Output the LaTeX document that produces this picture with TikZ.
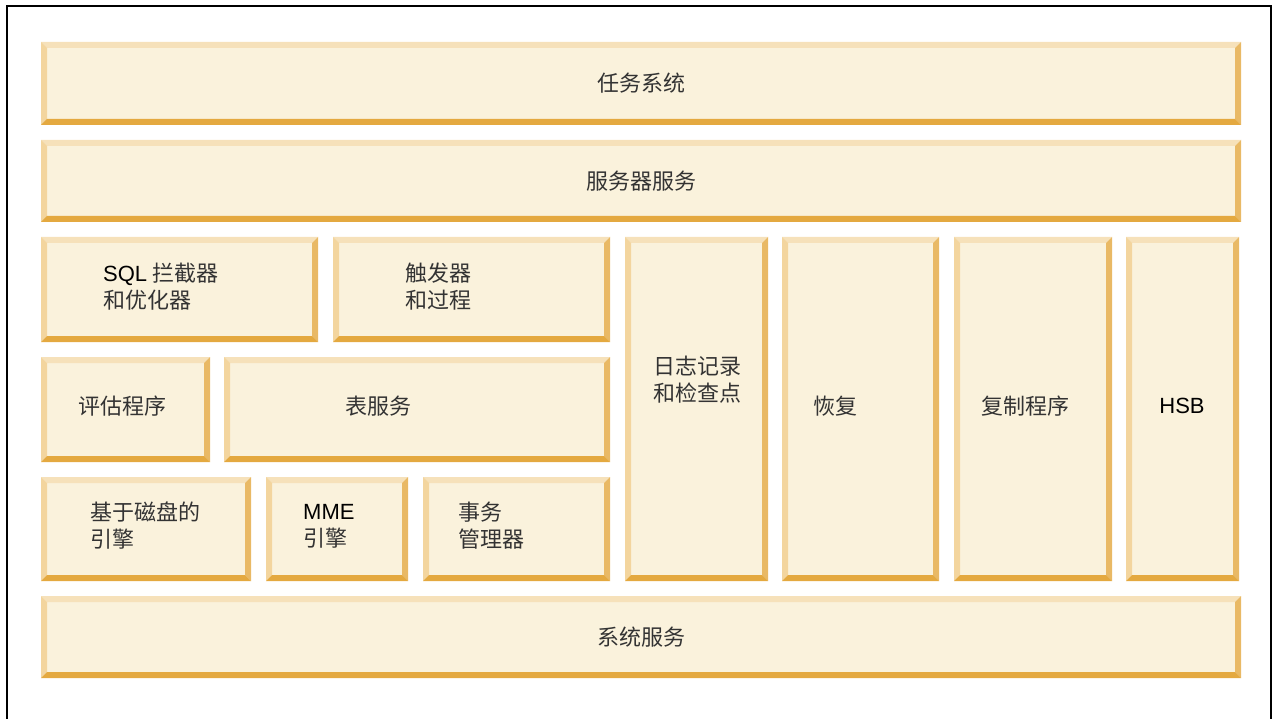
\documentclass[tikz,border=0pt]{standalone}
\usepackage{fontspec}
\setmainfont{Noto Sans CJK SC}
\newfontfamily\latinf{Liberation Sans}
\usetikzlibrary{positioning}

\definecolor{bvfill}{HTML}{FAF2DC}
\definecolor{bvtop}{HTML}{F6E1BA}
\definecolor{bvleft}{HTML}{F3D59E}
\definecolor{bvright}{HTML}{E9B965}
\definecolor{bvbottom}{HTML}{E4A940}
\definecolor{cjktext}{HTML}{333333}

\tikzset{
  bevelbox/.style={
    fill=bvfill,inner sep=0pt,outer sep=0pt,
    path picture={
      \coordinate (bnw) at (path picture bounding box.north west);
      \coordinate (bne) at (path picture bounding box.north east);
      \coordinate (bsw) at (path picture bounding box.south west);
      \coordinate (bse) at (path picture bounding box.south east);
      \fill[bvtop] (bnw) -- (bne) -- ([shift={(-6pt,-6pt)}]bne) -- ([shift={(6pt,-6pt)}]bnw) -- cycle;
      \fill[bvleft] (bnw) -- (bsw) -- ([shift={(6pt,6pt)}]bsw) -- ([shift={(6pt,-6pt)}]bnw) -- cycle;
      \fill[bvright] (bne) -- (bse) -- ([shift={(-6pt,6pt)}]bse) -- ([shift={(-6pt,-6pt)}]bne) -- cycle;
      \fill[bvbottom] (bsw) -- (bse) -- ([shift={(-6pt,6pt)}]bse) -- ([shift={(6pt,6pt)}]bsw) -- cycle;
    }},
  lbl/.style={inner sep=0pt,text=cjktext,font=\fontsize{22}{27}\selectfont,align=left},
}

% box from its top left corner to its bottom right corner
\newcommand{\bevbox}[5]{
  \pgfmathsetmacro{\bw}{#4-#2}
  \pgfmathsetmacro{\bh}{#5-#3}
  \node[bevelbox,minimum width=\bw pt,minimum height=\bh pt,anchor=north west] (#1) at (#2,#3) {};
}
\newcommand{\lat}[1]{{\latinf\color{black}#1}}

\begin{document}
\begin{tikzpicture}[x=1pt,y=-1pt]
  \useasboundingbox (0,0) rectangle (1274,719);
  \draw[line width=2pt] (7,719) -- (7,6) -- (1271,6) -- (1271,719);

  \bevbox{task}{41}{42}{1241}{125}
  \bevbox{server}{41}{140}{1241}{222}
  \bevbox{sql}{41}{237}{318}{342}
  \bevbox{trig}{333}{237}{610}{342}
  \bevbox{log}{625}{237}{768}{581}
  \bevbox{recov}{782}{237}{939}{581}
  \bevbox{repl}{954}{237}{1112}{581}
  \bevbox{hsb}{1126}{237}{1239}{581}
  \bevbox{eval}{41}{357}{210}{462}
  \bevbox{table}{224}{357}{610}{462}
  \bevbox{disk}{41}{477}{251}{581}
  \bevbox{mme}{266}{477}{408}{581}
  \bevbox{txn}{423}{477}{610}{581}
  \bevbox{sys}{41}{596}{1241}{678}

  \node[lbl] (tasktxt) at (task) {任务系统};
  \node[lbl] (servertxt) at (server) {服务器服务};
  \node[lbl,anchor=west] (sqltxt) at (103,287) {\lat{SQL} 拦截器\\和优化器};
  \node[lbl,anchor=west] (trigtxt) at (405,287) {触发器\\和过程};
  \node[lbl,anchor=west] (logtxt) at (653,380) {日志记录\\和检查点};
  \node[lbl,anchor=west] (evaltxt) at (78,406) {评估程序};
  \node[lbl,anchor=west] (tabletxt) at (345,406) {表服务};
  \node[lbl,anchor=west] (recovtxt) at (813,406) {恢复};
  \node[lbl,anchor=west] (repltxt) at (981,406) {复制程序};
  \node[lbl] (hsbtxt) at (1182,406) {\lat{HSB}};
  \node[lbl,anchor=west] (disktxt) at (90,526) {基于磁盘的\\引擎};
  \node[lbl,anchor=west] (mmetxt) at (303,526) {\lat{MME}\\引擎};
  \node[lbl,anchor=west] (txntxt) at (458,526) {事务\\管理器};
  \node[lbl] (systxt) at (sys) {系统服务};
\end{tikzpicture}
\end{document}
